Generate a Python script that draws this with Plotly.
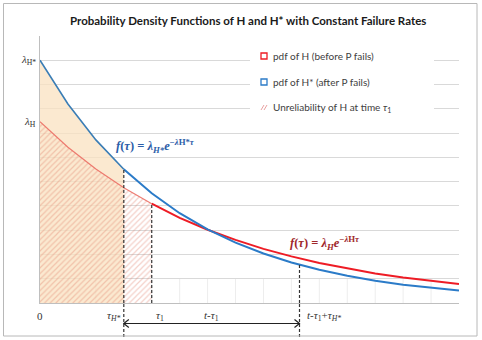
import numpy as np
import plotly.graph_objects as go

# ---- data (x in time units, y in density units) ----
tau = [0, 1, 2, 3, 4, 5, 6, 7, 8, 9, 10, 11, 12, 13, 14, 15]
pdf_h_star = [10.0, 8.20, 6.72, 5.51, 4.52, 3.70, 3.03, 2.49, 2.04, 1.67, 1.37, 1.12, 0.92, 0.755, 0.62, 0.51]
pdf_h = [7.47, 6.42, 5.52, 4.75, 4.09, 3.51, 3.02, 2.60, 2.23, 1.92, 1.65, 1.42, 1.22, 1.05, 0.90, 0.78]
tau_h_star = 3.0
tau_1 = 4.0
t_shift = 9.29  # t - tau1 + tau_H*
y_max = 11
x_max = 15

title = "Probability Density Functions of H and H* with Constant Failure Rates"
legend_labels = ["pdf of H (before P fails)", "pdf of H* (after P fails)", "Unreliability of H at time <i>τ</i><sub>1</sub>"]

BLUE = "#2B7BC8"
RED = "#EE1C25"

# plot-area pixel geometry
L, R, T, B = 40, 23, 36, 37
W, H = 482, 340
PW, PH = W - L - R, H - T - B
def px(xp):
    return (xp - L) / PW
def py(yp):
    return (H - B - yp) / PH

t_arr = np.array(tau, dtype=float)
hs = np.array(pdf_h_star)
h = np.array(pdf_h)

fig = go.Figure()

# tan area under H* pdf until tau_H*
m1 = t_arr <= tau_h_star
fig.add_trace(go.Scatter(x=t_arr[m1], y=hs[m1], mode="lines", line=dict(width=0),
                         fill="tozeroy", fillcolor="rgba(250,226,192,0.75)",
                         hoverinfo="skip", showlegend=False))
# hatched unreliability area under H pdf until tau_1
m2 = t_arr <= tau_1
fig.add_trace(go.Scatter(x=t_arr[m2], y=h[m2], mode="lines", line=dict(width=0),
                         fill="tozeroy", fillcolor="rgba(0,0,0,0)",
                         fillpattern=dict(shape="/", fgcolor="rgba(222,115,95,0.68)",
                                          bgcolor="rgba(0,0,0,0)", size=4, solidity=0.3),
                         hoverinfo="skip", showlegend=False))
# curves: lighter in left part, stronger afterwards
fig.add_trace(go.Scatter(x=t_arr[m2], y=h[m2], mode="lines",
                         line=dict(color="rgba(235,110,100,0.9)", width=1.2),
                         hoverinfo="skip", showlegend=False))
m3 = t_arr >= tau_1
fig.add_trace(go.Scatter(x=t_arr[m3], y=h[m3], mode="lines",
                         line=dict(color=RED, width=2), hoverinfo="skip", showlegend=False))
fig.add_trace(go.Scatter(x=t_arr[m1], y=hs[m1], mode="lines",
                         line=dict(color="#3A7DB5", width=1.6), hoverinfo="skip", showlegend=False))
m4 = t_arr >= tau_h_star
fig.add_trace(go.Scatter(x=t_arr[m4], y=hs[m4], mode="lines",
                         line=dict(color=BLUE, width=2), hoverinfo="skip", showlegend=False))

shapes = []
# faint vertical lines in the bottom band
for xv in tau[1:-1]:
    shapes.append(dict(type="line", xref="x", yref="y", x0=xv, x1=xv, y0=0, y1=1,
                       line=dict(color="#EDEDED", width=1), layer="below"))
# dashed verticals
yb = py(337)
top1 = float(np.interp(tau_h_star, t_arr, hs))
top2 = float(np.interp(tau_1, t_arr, h))
top3 = float(np.interp(t_shift, t_arr, hs))
dash = dict(color="#333333", width=1.2, dash="3px,2px")
shapes.append(dict(type="line", xref="x", yref="y", x0=tau_h_star, x1=tau_h_star, y0=0, y1=top1, line=dash))
shapes.append(dict(type="line", xref="x", yref="paper", x0=tau_h_star, x1=tau_h_star, y0=yb, y1=0, line=dash))
shapes.append(dict(type="line", xref="x", yref="y", x0=tau_1, x1=tau_1, y0=0, y1=top2, line=dash))
shapes.append(dict(type="line", xref="x", yref="y", x0=t_shift, x1=t_shift, y0=0, y1=top3, line=dash))
shapes.append(dict(type="line", xref="x", yref="paper", x0=t_shift, x1=t_shift, y0=yb, y1=0, line=dash))
# double arrow
ya = py(323.5)
dx = 5 / (PW / x_max)
dy = 4 / PH
arr = dict(color="#222222", width=1.2)
shapes.append(dict(type="line", xref="x", yref="paper", x0=tau_h_star, x1=t_shift, y0=ya, y1=ya, line=arr))
shapes.append(dict(type="path", xref="x", yref="paper",
                   path=f"M{tau_h_star+dx},{ya+dy} L{tau_h_star},{ya} L{tau_h_star+dx},{ya-dy}", line=arr))
shapes.append(dict(type="path", xref="x", yref="paper",
                   path=f"M{t_shift-dx},{ya+dy} L{t_shift},{ya} L{t_shift-dx},{ya-dy}", line=arr))
# legend box (white, hides gridlines)
shapes.append(dict(type="rect", xref="paper", yref="paper", x0=px(250), x1=px(434), y0=py(122), y1=py(45),
                   fillcolor="white", line=dict(width=0), layer="above"))
# legend markers
shapes.append(dict(type="rect", xref="paper", yref="paper", x0=px(261), x1=px(267), y0=py(59), y1=py(53),
                   line=dict(color=RED, width=1.3), fillcolor="white", layer="above"))
shapes.append(dict(type="rect", xref="paper", yref="paper", x0=px(261), x1=px(267), y0=py(85), y1=py(79),
                   line=dict(color=BLUE, width=1.3), fillcolor="white", layer="above"))
for o in (0, 3):
    shapes.append(dict(type="line", xref="paper", yref="paper", x0=px(261 + o), x1=px(264 + o),
                       y0=py(110), y1=py(105), line=dict(color="#E8A0A0", width=1), layer="above"))
# outer frame
shapes.append(dict(type="rect", xref="paper", yref="paper", x0=px(3.5), x1=px(477), y0=py(336), y1=py(3.5),
                   line=dict(color="#B8B8B8", width=1), layer="above"))

serif = "Liberation Serif"
ax_font = dict(family=serif, size=11, color="#333")
ann = []
def A(**kw):
    kw.setdefault("showarrow", False)
    kw.setdefault("xanchor", "center")
    kw.setdefault("yanchor", "middle")
    ann.append(kw)

A(text=f"<b>{title}</b>", xref="paper", yref="paper", x=px(248), y=py(20),
  font=dict(family="Lato", size=11.5, color="#1a1a1a"))
for lab, yy in zip(legend_labels, [56, 82, 107]):
    A(text=lab, xref="paper", yref="paper", x=px(271), y=py(yy), xanchor="left",
      font=dict(family="Lato", size=10, color="#404040"))
# y-axis labels
A(text="<i>λ</i><sub>H*</sub>", xref="paper", yref="y", x=px(38), y=pdf_h_star[0], xanchor="right", font=ax_font)
A(text="<i>λ</i><sub>H</sub>", xref="paper", yref="y", x=px(38), y=pdf_h[0], xanchor="right", font=ax_font)
# x-axis labels
yl = py(316)
A(text="0", xref="x", yref="paper", x=tau[0], y=yl, font=ax_font)
A(text="<i>τ</i><sub><i>H*</i></sub>", xref="x", yref="paper", x=tau_h_star, y=yl, xanchor="right", xshift=-2, font=ax_font)
A(text="<i>τ</i><sub>1</sub>", xref="x", yref="paper", x=tau_1, y=yl, xanchor="left", xshift=2, font=ax_font)
A(text="<i>t</i>-<i>τ</i><sub>1</sub>+<i>τ</i><sub><i>H*</i></sub>", xref="x", yref="paper",
  x=t_shift, y=yl, xanchor="left", xshift=5, font=ax_font)
A(text="<i>t</i>-<i>τ</i><sub>1</sub>", xref="x", yref="paper", x=(tau_h_star + t_shift) / 2, y=py(316), font=ax_font)
# equations
A(text="<b><i>f</i>(<i>τ</i>) = <i>λ</i><sub><i>H*</i></sub><i>e</i><sup>−<i>λ</i>H*<i>τ</i></sup></b>",
  xref="paper", yref="paper", x=px(155), y=py(146), font=dict(family=serif, size=12.5, color="#2B5DA8"))
A(text="<b><i>f</i>(<i>τ</i>) = <i>λ</i><sub><i>H</i></sub><i>e</i><sup>−<i>λ</i>H<i>τ</i></sup></b>",
  xref="paper", yref="paper", x=px(325), y=py(243), font=dict(family=serif, size=12.5, color="#A0282C"))

fig.update_layout(
    width=W, height=H, margin=dict(l=L, r=R, t=T, b=B),
    paper_bgcolor="white", plot_bgcolor="white",
    showlegend=False, shapes=shapes, annotations=ann,
    xaxis=dict(range=[0, x_max], showgrid=False, zeroline=False, showticklabels=False,
               showline=True, linecolor="#BFBFBF", linewidth=1, fixedrange=True),
    yaxis=dict(range=[0, y_max], dtick=1, showgrid=True, gridcolor="#D9D9D9", gridwidth=1,
               zeroline=False, showticklabels=False, showline=True, linecolor="#BFBFBF",
               linewidth=1, fixedrange=True),
)
fig.write_html("out.html")
